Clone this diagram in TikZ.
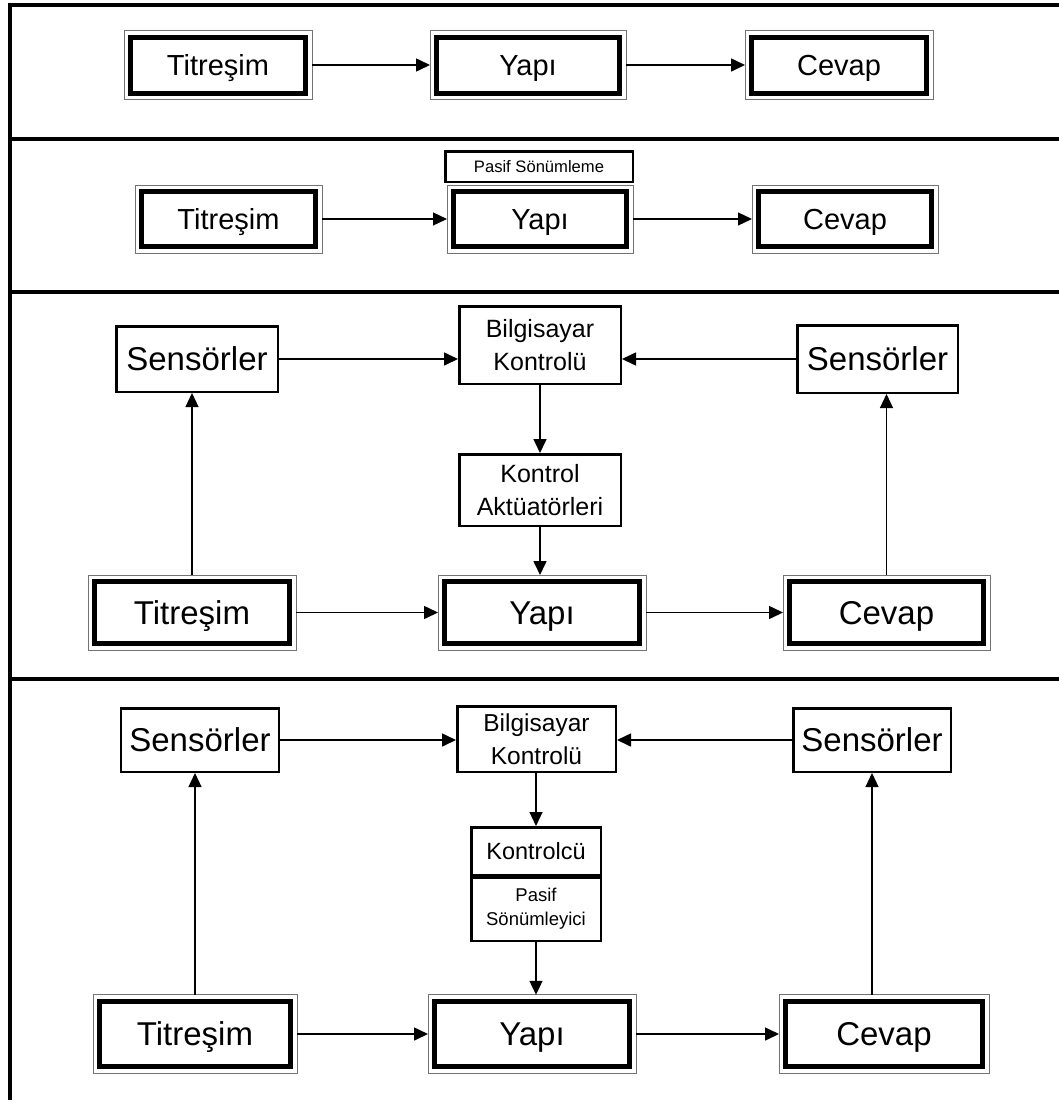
\documentclass[tikz,border=0pt]{standalone}
\usepackage{fontspec}
\setmainfont{Liberation Sans}
\usetikzlibrary{arrows.meta}

\newcommand{\txtsize}[2]{\fontsize{#1}{#2}\selectfont}

\tikzset{
    heavy/.style={fill=white,draw=black,line width=5pt,outer sep=6.5pt,align=center,
        preaction={draw=black!55,line width=14pt},
        preaction={draw=white,line width=12pt}},
    lbox/.style={fill=white,draw=black,line width=2.5pt,align=center,inner sep=2pt},
    mid/.style={font=\txtsize{29}{33},text height=28pt,text depth=7pt},
    big/.style={font=\txtsize{33}{37},text height=31.5pt,text depth=8pt},
    flow/.style={-{Triangle[length=14pt,width=13pt]},line width=1.6pt},
    rise/.style={flow,line width=1.2pt},
    frame/.style={black,line width=4pt}
}

\begin{document}
\begin{tikzpicture}[x=1pt,y=-1pt]
        \useasboundingbox (0,0) rectangle (1059,1103);

        %FRAME
        \draw[frame] (10,3) -- (10,1100);
        \draw[frame,line width=3.5pt] (8,5) -- (1059,5);
        \draw[frame] (10,139) -- (1059,139);
        \draw[frame] (10,292) -- (1059,292);
        \draw[frame] (10,679) -- (1059,679);

        %PANEL 1
        \node[heavy,mid,minimum width=175pt,minimum height=56pt] (tit1) at (218,65) {Titreşim};
        \node[heavy,mid,minimum width=183pt,minimum height=56pt] (yapi1) at (528,65) {Yapı};
        \node[heavy,mid,minimum width=175pt,minimum height=56pt] (cev1) at (839,65) {Cevap};
        \draw[flow] (tit1) -- (yapi1);
        \draw[flow] (yapi1) -- (cev1);

        %PANEL 2
        \node[heavy,mid,minimum width=174pt,minimum height=55pt] (tit2) at (228.5,219) {Titreşim};
        \node[heavy,mid,minimum width=173pt,minimum height=55pt] (yapi2) at (540,219) {Yapı};
        \node[lbox,minimum width=187.5pt,minimum height=30.5pt,font=\txtsize{16.6}{20}] (pas2) at (539,166.5) {Pasif Sönümleme};
        \node[heavy,mid,minimum width=173pt,minimum height=55pt] (cev2) at (845,219) {Cevap};
        \draw[flow,line width=1.2pt] (tit2) -- (yapi2);
        \draw[flow,line width=1.2pt] (yapi2) -- (cev2);

        %PANEL 3
        \node[lbox,minimum width=161.5pt,minimum height=65.5pt,font=\txtsize{33}{37}] (sen3a) at (197,359) {Sensörler};
        \node[lbox,minimum width=160.5pt,minimum height=67.5pt,font=\txtsize{33}{37}] (sen3b) at (877.5,359) {Sensörler};
        \node[lbox,minimum width=161.5pt,minimum height=77.5pt,font=\txtsize{25}{33}] (bil3) at (540,345) {Bilgisayar\\Kontrolü};
        \node[lbox,minimum width=161.5pt,minimum height=71.5pt,font=\txtsize{25}{33}] (akt3) at (540,490) {Kontrol\\Aktüatörleri};
        \node[heavy,big,minimum width=195pt,minimum height=62pt] (tit3) at (192,612.5) {Titreşim};
        \node[heavy,big,minimum width=195pt,minimum height=62pt] (yapi3) at (542,612.5) {Yapı};
        \node[heavy,big,minimum width=194pt,minimum height=62pt] (cev3) at (886.5,612.5) {Cevap};
        \draw[flow] (sen3a) -- (sen3a -| bil3.west);
        \draw[flow] (sen3b) -- (sen3b -| bil3.east);
        \draw[flow] (bil3) -- (akt3);
        \draw[flow] (akt3) -- (akt3 |- yapi3.north);
        \draw[flow] (tit3) -- (yapi3);
        \draw[flow] (yapi3) -- (cev3);
        \draw[rise] (tit3.north) -- (tit3.north |- sen3a.south);
        \draw[rise] (cev3.north) -- (cev3.north |- sen3b.south);

        %PANEL 4
        \node[lbox,minimum width=158pt,minimum height=63.5pt,font=\txtsize{33}{37}] (sen4a) at (200,740) {Sensörler};
        \node[lbox,minimum width=157.5pt,minimum height=63.5pt,font=\txtsize{33}{37}] (sen4b) at (872,740) {Sensörler};
        \node[lbox,minimum width=158.5pt,minimum height=65.5pt,font=\txtsize{24.5}{33}] (bil4) at (536.5,739) {Bilgisayar\\Kontrolü};
        \node[lbox,minimum width=129.5pt,minimum height=47.5pt,font=\txtsize{23.5}{28}] (kon4) at (536,851) {Kontrolcü};
        \node[lbox,minimum width=129.5pt,minimum height=63.5pt,font=\txtsize{18.5}{24}] (pas4) at (536,909) {Pasif\\Sönümleyici};
        \node[heavy,big,minimum width=191pt,minimum height=65.5pt] (tit4) at (195,1034) {Titreşim};
        \node[heavy,big,minimum width=195pt,minimum height=65.5pt] (yapi4) at (532,1034) {Yapı};
        \node[heavy,big,minimum width=197pt,minimum height=65.5pt] (cev4) at (884,1034) {Cevap};
        \draw[flow] (sen4a) -- (sen4a -| bil4.west);
        \draw[flow] (sen4b) -- (sen4b -| bil4.east);
        \draw[flow,line width=1.2pt] (bil4.south -| kon4) -- (kon4);
        \draw[flow,line width=1.2pt] (pas4) -- (pas4 |- yapi4.north);
        \draw[flow] (tit4) -- (yapi4);
        \draw[flow] (yapi4) -- (cev4);
        \draw[rise] (tit4.north) -- (tit4.north |- sen4a.south);
        \draw[rise] (cev4.north -| sen4b.south) -- (sen4b.south);
\end{tikzpicture}
\end{document}
